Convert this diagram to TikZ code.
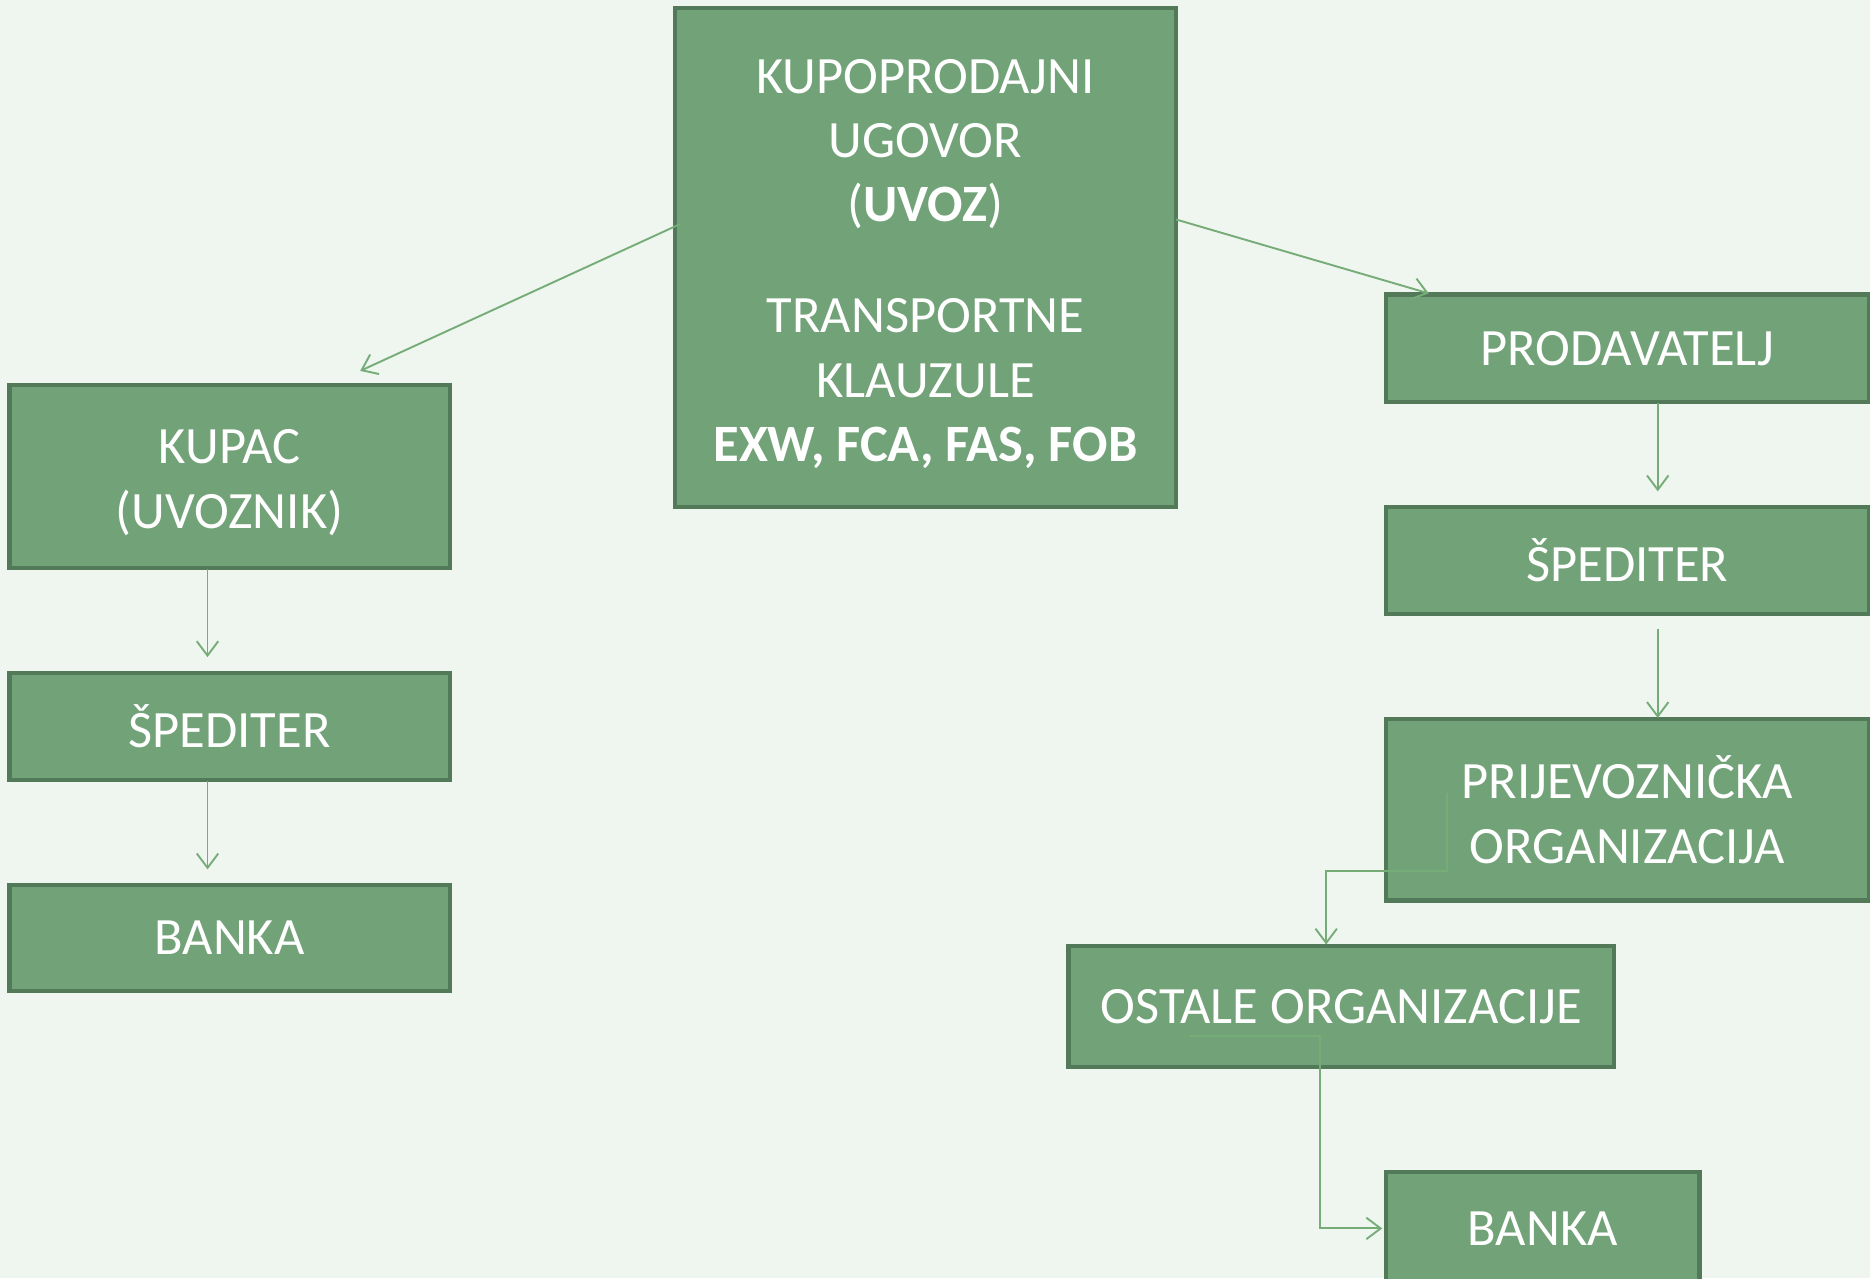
\documentclass[tikz,border=0pt]{standalone}
\usepackage{fontspec}
\setmainfont{Carlito}
\usetikzlibrary{arrows.meta}
\definecolor{bgcol}{RGB}{239,246,239}
\definecolor{boxfill}{RGB}{114,162,120}
\definecolor{boxline}{RGB}{82,122,88}
\definecolor{conncol}{RGB}{118,172,120}
\begin{document}
\begin{tikzpicture}[x=1pt,y=-1pt,
  box/.style={draw=boxline, fill=boxfill, line width=3.5pt, inner sep=0pt,
    text=white, align=center, font=\fontsize{44}{54}\selectfont},
  conn/.style={draw=conncol, line width=1.6pt,
    -{Straight Barb[length=12pt,width=18pt,line width=1.6pt]}}]
\fill[bgcol] (0,0) rectangle (1568,1072);
\useasboundingbox (0,0) rectangle (1568,1072);

\node[box, minimum width=420pt, minimum height=418pt] (ugovor) at (776,216)
  {\rule{0pt}{39pt}KUPOPRODAJNI\\UGOVOR\\(\textbf{UVOZ})\\[39pt]TRANSPORTNE\\KLAUZULE\\\textbf{EXW, FCA, FAS, FOB}};
\node[box, minimum width=369pt, minimum height=153pt] (kupac) at (192.5,399.5) {\rule{0pt}{39pt}KUPAC\\(UVOZNIK)};
\node[box, minimum width=369pt, minimum height=90pt] (spedL) at (192.5,609) {ŠPEDITER};
\node[box, minimum width=369pt, minimum height=89pt] (bankaL) at (192.5,786.5) {BANKA};
\node[box, minimum width=405pt, minimum height=90pt] (prod) at (1364.5,292) {PRODAVATELJ};
\node[box, minimum width=405pt, minimum height=90pt] (spedR) at (1364.5,470) {ŠPEDITER};
\node[box, minimum width=405pt, minimum height=152pt] (prij) at (1364.5,679) {PRIJEVOZNIČKA\\ORGANIZACIJA};
\node[box, minimum width=457pt, minimum height=102pt] (ostale) at (1124.5,844) {OSTALE ORGANIZACIJE};
\node[box, minimum width=263pt, minimum height=94pt] (bankaR) at (1293.5,1030) {BANKA};

% connector end points
\coordinate (uL) at (570,188);
\coordinate (kT) at (302,311);
\coordinate (uR) at (986,184);
\coordinate (pT) at (1198,246);
\coordinate (kB) at (174,477);
\coordinate (sLT) at (174,551);
\coordinate (sLB) at (174,655);
\coordinate (bLT) at (174,729);
\coordinate (pB) at (1390,338);
\coordinate (sRT) at (1390,412);
\coordinate (sRB) at (1390,527);
\coordinate (prT) at (1390,602);
\coordinate (prS) at (1213,665);
\coordinate (oT) at (1112,792);
\coordinate (oS) at (998,869);
\coordinate (bRL) at (1159,1030);

\draw[conn] (uL) -- (kT);
\draw[conn] (uR) -- (pT);
\draw[conn] (kB) -- (sLT);
\draw[conn] (sLB) -- (bLT);
\draw[conn] (pB) -- (sRT);
\draw[conn] (sRB) -- (prT);
\draw[conn] (prS) -- (1213,730) -- (1112,730) -- (oT);
\draw[conn] (oS) -- (1107,869) -- (1107,1030) -- (bRL);
\end{tikzpicture}
\end{document}
